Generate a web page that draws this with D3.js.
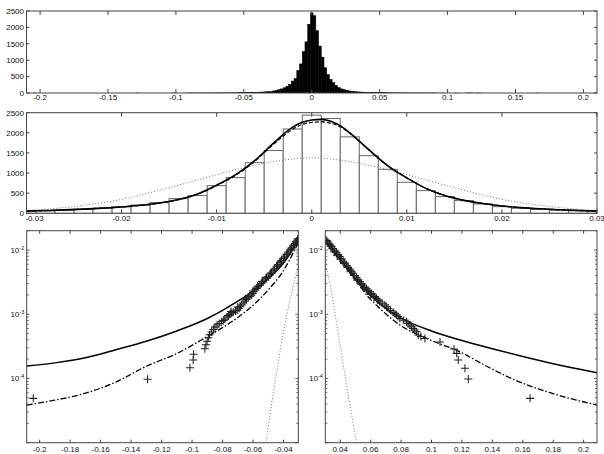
<!DOCTYPE html>
<html><head><meta charset="utf-8">
<script src="https://cdn.jsdelivr.net/npm/d3@7"></script>
<style>
body{margin:0;background:#fff}
text{font-family:"Liberation Sans",Arial,Helvetica,sans-serif;font-size:8px;fill:#111}
</style>
</head><body>
<svg id="c" width="604" height="454"></svg>
<script>
// ---------------- DATA ----------------
// histogram bins: centres every 0.002 from -0.21 to 0.21 (211 bins)
const binWidth = 0.002;
const binCenters = d3.range(-105, 106).map(k => k * binWidth);
const binCounts = [
  0,0,0,1,0,0,0,0,0,0,
  0,0,0,0,0,0,0,0,0,0,
  0,0,0,0,0,0,0,0,0,0,
  0,0,0,0,0,0,0,0,0,0,
  0,1,0,0,0,0,0,0,0,0,
  0,0,0,0,1,2,0,0,0,1,
  3,2,1,2,1,2,2,2,2,2,
  3,3,3,4,4,5,5,6,7,8,
  10,12,14,16,19,22,26,30,35,40,
  45,62,80,100,125,160,205,265,364,440,687,886,1258,1560,2095,2440,2355,1900,1432,1093,770,563,414,315,232,165,124,100,80,62,50,
  40,34,29,25,21,18,16,14,12,10,
  9,8,7,6,5,4,4,3,3,3,
  2,2,2,2,2,1,2,1,2,1,
  1,0,1,0,0,0,0,1,0,0,
  0,1,2,1,0,1,1,0,0,0,
  0,0,0,0,0,0,0,0,0,0,
  0,0,0,0,0,0,0,1,0,0,
  0,0,0,0,0,0,0,0,0,0,
  0,0,0,0,0,0,0,0,0,0
];

// middle panel fitted densities
const midX = [-0.030,-0.028,-0.026,-0.024,-0.022,-0.020,-0.018,-0.016,-0.014,-0.012,-0.010,-0.008,-0.006,-0.004,-0.002,-0.001,0,0.001,0.002,0.003,0.004,0.006,0.008,0.010,0.012,0.014,0.016,0.018,0.020,0.022,0.024,0.026,0.028,0.030];
const midSolid  = [55,68,84,104,128,158,200,258,345,480,700,960,1310,1750,2140,2260,2320,2335,2290,2180,2000,1580,1180,880,620,440,322,245,182,142,112,88,71,58];
const midDashed = [55,68,83,103,127,157,198,256,342,475,690,945,1290,1720,2090,2210,2260,2275,2240,2150,1990,1575,1180,880,620,440,322,245,182,142,112,88,71,58];
const midGauss  = [68,100,143,198,265,345,455,575,700,830,960,1085,1195,1285,1350,1372,1380,1372,1350,1322,1285,1195,1085,960,830,700,575,455,345,265,198,143,100,68];

// left tail (bottom-left panel)
const leftSolidX = [-0.2085,-0.19,-0.17,-0.15,-0.13,-0.11,-0.09,-0.08,-0.07,-0.06,-0.05,-0.04,-0.035,-0.0303];
const leftSolidP = [1.56e-4,1.75e-4,2.1e-4,2.8e-4,3.8e-4,5.5e-4,8.6e-4,1.15e-3,1.6e-3,2.3e-3,3.6e-3,6.3e-3,9.3e-3,1.5e-2];
const leftDashDotX = [-0.2085,-0.19,-0.17,-0.15,-0.13,-0.11,-0.09,-0.08,-0.07,-0.06,-0.05,-0.04,-0.035,-0.0303];
const leftDashDotP = [3.85e-5,4.6e-5,5.9e-5,8.8e-5,1.55e-4,2.45e-4,4.5e-4,6.2e-4,8.9e-4,1.38e-3,2.4e-3,4.8e-3,7.8e-3,1.3e-2];
const leftGaussX = [-0.0522,-0.0515,-0.05,-0.0466,-0.045,-0.04,-0.035,-0.0303];
const leftGaussP = [7e-6,9.9e-6,1.78e-5,6.2e-5,1.05e-4,5.4e-4,2.0e-3,5.6e-3];
const leftCrossX = [-0.2042,-0.1292,-0.1014,-0.0993,-0.0990,-0.0916,-0.0909,-0.0901,-0.0893,-0.0885,-0.0872,-0.0860,-0.0850,-0.0836,-0.0822,-0.0806,-0.0795,-0.0785,-0.0770,-0.0760,-0.0752,-0.0740,-0.0730,-0.0715,-0.0704,-0.0691,-0.0683,-0.0675,-0.0665,-0.0654,-0.0643,-0.0632,-0.0621,-0.0610,-0.0602,-0.0595,-0.0586,-0.0577,-0.0566,-0.0555,-0.0545,-0.0534,-0.0522,-0.0511,-0.0500,-0.0490,-0.0479,-0.0468,-0.0457,-0.0446,-0.0435,-0.0424,-0.0413,-0.0402,-0.0391,-0.0380,-0.0369,-0.0358,-0.0347,-0.0337,-0.0325,-0.0314,-0.0305,
  -0.0745,-0.0700,-0.0650,-0.0600,-0.0570,-0.0540,-0.0515,-0.0485,-0.0460,-0.0440,-0.0418,-0.0395,-0.0375,-0.0352,-0.0332,-0.0318,-0.0308];
const leftCrossP = [4.9e-5,9.7e-5,1.47e-4,1.94e-4,2.38e-4,2.9e-4,3.35e-4,3.8e-4,4.3e-4,4.8e-4,5.3e-4,5.8e-4,6.3e-4,6.8e-4,7.2e-4,7.65e-4,8.0e-4,8.4e-4,9.1e-4,9.6e-4,1.0e-3,1.04e-3,1.07e-3,1.12e-3,1.16e-3,1.24e-3,1.31e-3,1.39e-3,1.5e-3,1.61e-3,1.71e-3,1.81e-3,1.9e-3,1.99e-3,2.12e-3,2.24e-3,2.38e-3,2.53e-3,2.69e-3,2.85e-3,3.03e-3,3.21e-3,3.42e-3,3.63e-3,3.85e-3,4.09e-3,4.4e-3,4.71e-3,5.1e-3,5.5e-3,5.95e-3,6.44e-3,6.9e-3,7.43e-3,8.0e-3,8.58e-3,9.3e-3,1.0e-2,1.08e-2,1.17e-2,1.27e-2,1.38e-2,1.5e-2,
  1.1e-3,1.3e-3,1.75e-3,2.3e-3,2.75e-3,3.25e-3,3.75e-3,4.35e-3,4.9e-3,5.85e-3,6.45e-3,7.5e-3,8.6e-3,1.03e-2,1.2e-2,1.35e-2,1.45e-2];

// right tail (bottom-right panel)
const rightSolidX = [0.0302,0.035,0.04,0.046,0.052,0.058,0.066,0.075,0.085,0.1,0.12,0.14,0.16,0.18,0.2,0.2088];
const rightSolidP = [1.38e-2,1.0e-2,7.16e-3,4.79e-3,3.24e-3,2.24e-3,1.48e-3,1.02e-3,7.6e-4,5.5e-4,3.9e-4,2.9e-4,2.2e-4,1.7e-4,1.35e-4,1.23e-4];
const rightDashDotX = [0.0302,0.035,0.04,0.045,0.05,0.0573,0.065,0.0792,0.0968,0.1187,0.1341,0.1561,0.178,0.2088];
const rightDashDotP = [1.35e-2,9.8e-3,7.0e-3,5.0e-3,3.5e-3,2.0e-3,1.3e-3,6.8e-4,4.2e-4,2.6e-4,1.65e-4,9.2e-5,6.0e-5,3.85e-5];
const rightGaussX = [0.0302,0.034,0.0375,0.0441,0.0507,0.052];
const rightGaussP = [6.5e-3,2.4e-3,7.6e-4,8.2e-5,1.03e-5,7e-6];
const rightCrossX = [0.1648,0.1242,0.1220,0.1176,0.1166,0.1148,0.1056,0.0957,0.0930,0.0913,0.0902,0.0890,0.0880,0.0868,0.0858,0.0846,0.0836,0.0815,0.0792,0.0780,0.0770,0.0760,0.0748,0.0730,0.0715,0.0704,0.0693,0.0676,0.0660,0.0650,0.0639,0.0628,0.0616,0.0605,0.0594,0.0584,0.0573,0.0561,0.0550,0.0540,0.0529,0.0518,0.0507,0.0496,0.0484,0.0474,0.0463,0.0452,0.0441,0.0430,0.0419,0.0408,0.0397,0.0386,0.0375,0.0364,0.0353,0.0342,0.0331,0.0318,0.0305,
  0.0312,0.0325,0.0337,0.0348,0.0360,0.0380,0.0402,0.0425,0.0446,0.0468,0.0490,0.0512,0.0535,0.0556,0.0578,0.0600,0.0622,0.0645];
const rightCrossP = [4.9e-5,9.8e-5,1.44e-4,1.94e-4,2.46e-4,2.87e-4,3.7e-4,4.2e-4,4.5e-4,4.75e-4,5.35e-4,5.7e-4,6.0e-4,6.4e-4,6.8e-4,7.2e-4,7.65e-4,8.1e-4,8.6e-4,9.2e-4,9.7e-4,1.02e-3,1.07e-3,1.15e-3,1.24e-3,1.31e-3,1.39e-3,1.48e-3,1.57e-3,1.67e-3,1.77e-3,1.88e-3,1.99e-3,2.11e-3,2.24e-3,2.35e-3,2.47e-3,2.65e-3,2.85e-3,3.02e-3,3.2e-3,3.45e-3,3.7e-3,4.0e-3,4.34e-3,4.7e-3,5.06e-3,5.4e-3,5.8e-3,6.25e-3,6.7e-3,7.3e-3,7.9e-3,8.5e-3,9.2e-3,9.9e-3,1.06e-2,1.14e-2,1.23e-2,1.33e-2,1.43e-2,
  1.4e-2,1.25e-2,1.15e-2,1.05e-2,9.4e-3,8.3e-3,7.2e-3,6.2e-3,5.4e-3,4.6e-3,4.0e-3,3.4e-3,2.95e-3,2.6e-3,2.3e-3,2.05e-3,1.83e-3,1.65e-3];

// tick values & labels
const topTicks = [-0.2,-0.15,-0.1,-0.05,0,0.05,0.1,0.15,0.2];
const topTickLabels = ["-0.2","-0.15","-0.1","-0.05","0","0.05","0.1","0.15","0.2"];
const midTicks = [-0.03,-0.02,-0.01,0,0.01,0.02,0.03];
const midTickLabels = ["-0.03","-0.02","-0.01","0","0.01","0.02","0.03"];
const countTicks = [0,500,1000,1500,2000,2500];
const countTickLabels = ["0","500","1000","1500","2000","2500"];
const leftTicks = [-0.2,-0.18,-0.16,-0.14,-0.12,-0.1,-0.08,-0.06,-0.04];
const leftTickLabels = ["-0.2","-0.18","-0.16","-0.14","-0.12","-0.1","-0.08","-0.06","-0.04"];
const rightTicks = [0.04,0.06,0.08,0.1,0.12,0.14,0.16,0.18,0.2];
const rightTickLabels = ["0.04","0.06","0.08","0.1","0.12","0.14","0.16","0.18","0.2"];
const logMajor = [1e-5,1e-4,1e-3,1e-2];
const logLabelVals = [1e-4,1e-3,1e-2];
const logLabelExp = ["-4","-3","-2"];

// ---------------- DRAW ----------------
const svg = d3.select("#c");
const AX = "#444";
let clipId = 0;

function makePanel(x0, x1, y0, y1) {
  const id = "clip" + (clipId++);
  svg.append("clipPath").attr("id", id).append("rect")
    .attr("x", x0).attr("y", y0).attr("width", x1 - x0).attr("height", y1 - y0);
  const g = svg.append("g");
  const plot = g.append("g").attr("clip-path", `url(#${id})`);
  return {g, plot};
}
function box(g, x0, x1, y0, y1) {
  g.append("rect").attr("x", x0).attr("y", y0).attr("width", x1 - x0).attr("height", y1 - y0)
    .attr("fill", "none").attr("stroke", AX).attr("stroke-width", 1);
}
function xTicks(g, xs, vals, labels, y0, y1, len, labelY, firstShift) {
  vals.forEach((v, i) => {
    const x = xs(v);
    g.append("line").attr("x1", x).attr("x2", x).attr("y1", y1).attr("y2", y1 - len).attr("stroke", AX);
    g.append("line").attr("x1", x).attr("x2", x).attr("y1", y0).attr("y2", y0 + len).attr("stroke", AX);
    g.append("text").attr("x", x + (i === 0 ? (firstShift || 0) : 0)).attr("y", labelY)
      .attr("text-anchor", "middle").text(labels[i]);
  });
}
function yTicksLin(g, ys, vals, labels, x0, x1, len) {
  vals.forEach((v, i) => {
    const y = ys(v);
    g.append("line").attr("x1", x0).attr("x2", x0 + len).attr("y1", y).attr("y2", y).attr("stroke", AX);
    g.append("line").attr("x1", x1).attr("x2", x1 - len).attr("y1", y).attr("y2", y).attr("stroke", AX);
    g.append("text").attr("x", x0 - 2.5).attr("y", y).attr("dy", "0.35em").attr("text-anchor", "end").text(labels[i]);
  });
}
function yTicksLog(g, ys, x0, x1) {
  const [lo, hi] = ys.domain();
  logMajor.forEach(d => {
    for (let m = 1; m < 10; m++) {
      const v = d * m;
      if (v < lo * 0.999 || v > hi * 1.001) continue;
      const len = m === 1 ? 3 : 2;
      const y = ys(v);
      g.append("line").attr("x1", x0).attr("x2", x0 + len).attr("y1", y).attr("y2", y).attr("stroke", AX).attr("stroke-width", 0.8);
      g.append("line").attr("x1", x1).attr("x2", x1 - len).attr("y1", y).attr("y2", y).attr("stroke", AX).attr("stroke-width", 0.8);
    }
  });
  logLabelVals.forEach((v, i) => {
    const t = g.append("text").attr("x", x0 - 2.5).attr("y", ys(v)).attr("dy", "0.35em").attr("text-anchor", "end");
    t.append("tspan").text("10");
    t.append("tspan").attr("dy", "-3").attr("font-size", "5.5px").text(logLabelExp[i]);
  });
}

// ---- Panel 1: full histogram ----
{
  const x0 = 26.5, x1 = 597, y0 = 11, y1 = 93;
  const xs = d3.scaleLinear().domain([-0.21, 0.21]).range([x0, x1]);
  const ys = d3.scaleLinear().domain([0, 2500]).range([y1, y0]);
  const {g, plot} = makePanel(x0, x1, y0, y1);
  plot.selectAll("rect.b").data(binCenters.map((c, i) => ({c, n: binCounts[i]})).filter(d => d.n > 0))
    .enter().append("rect")
    .attr("x", d => xs(d.c - binWidth / 2)).attr("width", d => xs(d.c + binWidth / 2) - xs(d.c - binWidth / 2))
    .attr("y", d => ys(d.n)).attr("height", d => ys(0) - ys(d.n))
    .attr("fill", "#000").attr("stroke", "#000").attr("stroke-width", 0.5);
  box(g, x0, x1, y0, y1);
  xTicks(g, xs, topTicks, topTickLabels, y0, y1, 4, 100.2, 0);
  yTicksLin(g, ys, countTicks, countTickLabels, x0, x1, 3);
}

// ---- Panel 2: zoomed histogram with fits ----
{
  const x0 = 26.5, x1 = 597, y0 = 112.7, y1 = 213.3;
  const xs = d3.scaleLinear().domain([-0.03, 0.03]).range([x0, x1]);
  const ys = d3.scaleLinear().domain([0, 2500]).range([y1, y0]);
  const {g, plot} = makePanel(x0, x1, y0, y1);
  const bins = binCenters.map((c, i) => ({c, n: binCounts[i]})).filter(d => d.c > -0.032 && d.c < 0.032);
  plot.selectAll("rect.b").data(bins).enter().append("rect")
    .attr("x", d => xs(d.c - binWidth / 2)).attr("width", d => xs(d.c + binWidth / 2) - xs(d.c - binWidth / 2))
    .attr("y", d => ys(d.n)).attr("height", d => ys(0) - ys(d.n))
    .attr("fill", "#fff").attr("stroke", "#666").attr("stroke-width", 1);
  const line = arr => d3.line().x((d, i) => xs(midX[i])).y(d => ys(d)).curve(d3.curveMonotoneX)(arr);
  plot.append("path").attr("d", line(midGauss)).attr("fill", "none").attr("stroke", "#777").attr("stroke-width", 1).attr("stroke-dasharray", "1,2");
  plot.append("path").attr("d", line(midDashed)).attr("fill", "none").attr("stroke", "#111").attr("stroke-width", 1.3).attr("stroke-dasharray", "4,2");
  plot.append("path").attr("d", line(midSolid)).attr("fill", "none").attr("stroke", "#000").attr("stroke-width", 1.6);
  box(g, x0, x1, y0, y1);
  xTicks(g, xs, midTicks, midTickLabels, y0, y1, 4, 221, 8);
  yTicksLin(g, ys, countTicks, countTickLabels, x0, x1, 3);
}

// ---- Panels 3 & 4: tails on log scale ----
function tailPanel(x0, x1, xd, solidX, solidP, ddX, ddP, gX, gP, cX, cP, ticks, tickLabels) {
  const y0 = 230.7, y1 = 442.7;
  const xs = d3.scaleLinear().domain(xd).range([x0, x1]);
  const ys = d3.scaleLog().domain([1e-5, 0.02]).range([y1, y0]);
  const {g, plot} = makePanel(x0, x1, y0, y1);
  const line = (X, P) => d3.line().x((d, i) => xs(X[i])).y(d => ys(d)).curve(d3.curveMonotoneX)(P);
  plot.append("path").attr("d", line(gX, gP)).attr("fill", "none").attr("stroke", "#777").attr("stroke-width", 1).attr("stroke-dasharray", "1,2");
  plot.append("path").attr("d", line(ddX, ddP)).attr("fill", "none").attr("stroke", "#000").attr("stroke-width", 1.3).attr("stroke-dasharray", "6,2,1.5,2");
  plot.append("path").attr("d", line(solidX, solidP)).attr("fill", "none").attr("stroke", "#000").attr("stroke-width", 1.5);
  plot.selectAll("path.cr").data(cX.map((x, i) => [x, cP[i]])).enter().append("path")
    .attr("d", "M-4,0H4M0,-4V4")
    .attr("transform", d => `translate(${xs(d[0])},${ys(d[1])})`)
    .attr("stroke", "#222").attr("stroke-width", 1.05).attr("fill", "none");
  box(g, x0, x1, y0, y1);
  xTicks(g, xs, ticks, tickLabels, y0, y1, 3, 452, 0);
  yTicksLog(g, ys, x0, x1);
}
tailPanel(26.7, 298.3, [-0.2085, -0.0303], leftSolidX, leftSolidP, leftDashDotX, leftDashDotP, leftGaussX, leftGaussP, leftCrossX, leftCrossP, leftTicks, leftTickLabels);
tailPanel(325.3, 597, [0.0302, 0.2088], rightSolidX, rightSolidP, rightDashDotX, rightDashDotP, rightGaussX, rightGaussP, rightCrossX, rightCrossP, rightTicks, rightTickLabels);
</script>
</body></html>
